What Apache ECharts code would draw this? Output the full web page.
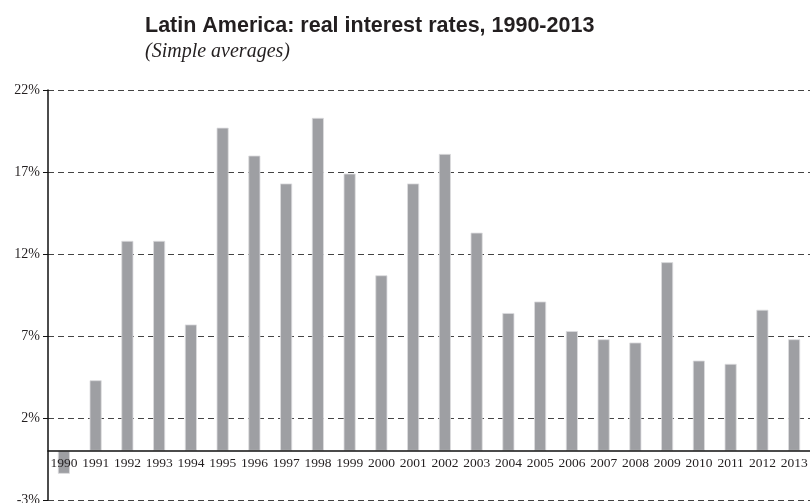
<!DOCTYPE html>
<html>
<head>
<meta charset="utf-8">
<script src="https://cdn.jsdelivr.net/npm/echarts@6/dist/echarts.min.js"></script>
<style>
  html, body { margin: 0; padding: 0; background: #fff; }
  #main { width: 810px; height: 503px; }
</style>
</head>
<body>
<div id="main"></div>
<script>
// 年份
var years = ['1990', '1991', '1992', '1993', '1994', '1995', '1996', '1997', '1998', '1999', '2000', '2001',
             '2002', '2003', '2004', '2005', '2006', '2007', '2008', '2009', '2010', '2011', '2012', '2013'];
// 实际利率 (%)
var rates = [-1.4, 4.3, 12.8, 12.8, 7.7, 19.7, 18.0, 16.3, 20.3, 16.9, 10.7, 16.3,
             18.1, 13.3, 8.4, 9.1, 7.3, 6.8, 6.6, 11.5, 5.5, 5.3, 8.6, 6.8];
// y轴刻度
var yTickLabels = ['-3%', '2%', '7%', '12%', '17%', '22%'];
var yMin = -3, yMax = 22, yStep = 5;

var chart = echarts.init(document.getElementById('main'));

var serif = '"Liberation Serif", "DejaVu Serif", serif';
var gridTop = 90, gridBottom = 3;
var gridH = 503 - gridTop - gridBottom;
// x轴放在0的位置
var zeroOffset = -(0 - yMin) / (yMax - yMin) * gridH;

var option = {
    animation: false,
    backgroundColor: '#fff',
    title: {
        text: 'Latin America: real interest rates, 1990-2013',
        subtext: '(Simple averages)',
        left: 140,
        top: 10,
        itemGap: 5,
        textStyle: {
            fontFamily: '"Liberation Sans", Arial, sans-serif',
            fontWeight: 'bold',
            fontSize: 21.5,
            color: '#231f20'
        },
        subtextStyle: {
            fontFamily: serif,
            fontStyle: 'italic',
            fontSize: 20,
            color: '#231f20'
        }
    },
    grid: {
        left: 48,
        right: 0,
        top: gridTop,
        bottom: gridBottom,
        containLabel: false,
        outerBoundsMode: 'none'
    },
    xAxis: {
        type: 'category',
        data: years,
        z: 10,
        position: 'bottom',
        offset: zeroOffset,
        axisLine: {
            onZero: false,
            lineStyle: { color: '#111', width: 1.5 }
        },
        axisTick: { show: false },
        axisLabel: {
            fontFamily: serif,
            fontSize: 13.5,
            color: '#231f20',
            margin: 6,
            interval: 0
        },
        splitLine: { show: false }
    },
    yAxis: [{
        // 数据轴
        type: 'value',
        min: yMin,
        max: yMax,
        show: false,
        splitLine: { show: false }
    }, {
        // 刻度轴 (从 -3 起, 偏移 3)
        type: 'value',
        position: 'left',
        min: 0,
        max: yMax - yMin,
        interval: yStep,
        axisLine: { show: true, lineStyle: { color: '#111', width: 1.5 } },
        axisTick: { show: true, length: 5, lineStyle: { color: '#111' } },
        axisLabel: {
            fontFamily: serif,
            fontSize: 14,
            color: '#231f20',
            margin: 8,
            formatter: function (v, i) {
                return yTickLabels[i];
            }
        },
        splitLine: {
            show: true,
            lineStyle: { color: '#444', type: [6, 4], width: 1 }
        }
    }],
    series: [{
        name: 'Real interest rate',
        type: 'bar',
        yAxisIndex: 0,
        data: rates,
        barWidth: 12,
        itemStyle: {
            color: '#9e9fa3',
            borderColor: '#dcdcde',
            borderWidth: 0.8
        }
    }]
};

chart.setOption(option);
</script>
</body>
</html>
